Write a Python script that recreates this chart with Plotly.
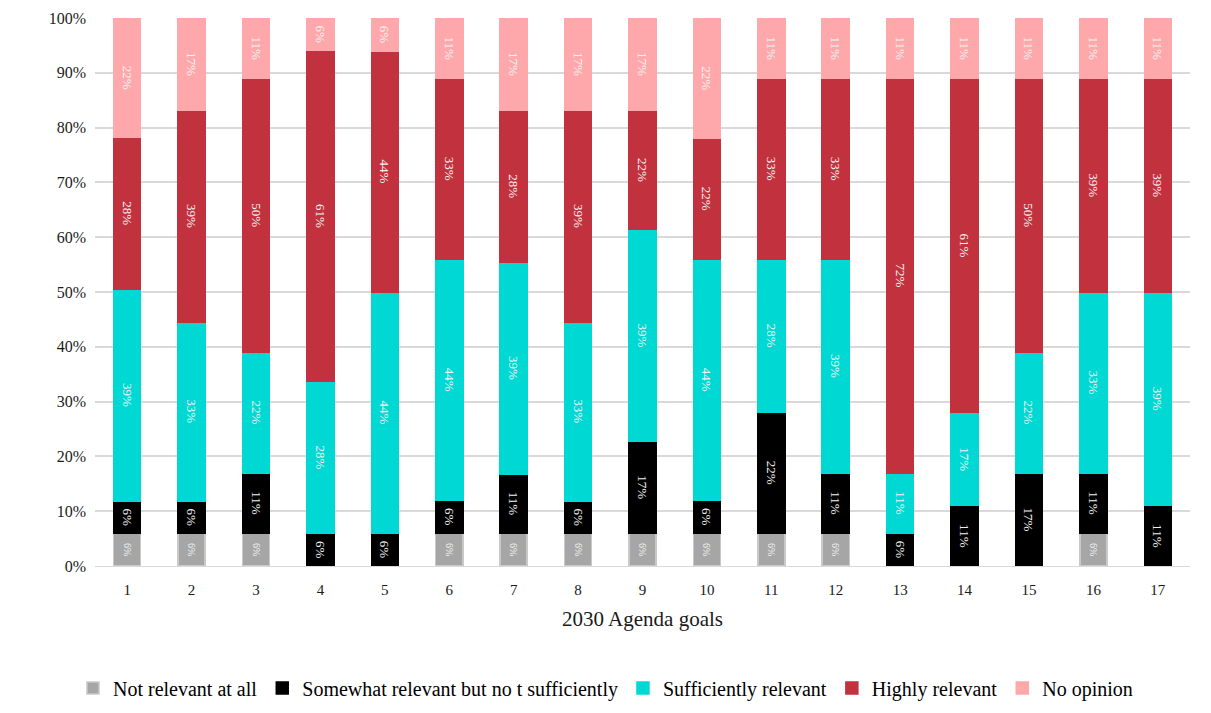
import plotly.graph_objects as go

goals = [str(i) for i in range(1, 18)]

# Share of answers per goal (%), as printed on each segment
not_relevant = [6, 6, 6, 0, 0, 6, 6, 6, 6, 6, 6, 6, 0, 0, 0, 6, 0]
somewhat = [6, 6, 11, 6, 6, 6, 11, 6, 17, 6, 22, 11, 6, 11, 17, 11, 11]
sufficiently = [39, 33, 22, 28, 44, 44, 39, 33, 39, 44, 28, 39, 11, 17, 22, 33, 39]
highly = [28, 39, 50, 61, 44, 33, 28, 39, 22, 22, 33, 33, 72, 61, 50, 39, 39]
no_opinion = [22, 17, 11, 6, 6, 11, 17, 17, 17, 22, 11, 11, 11, 11, 11, 11, 11]

# name, values, fill, outline, label size
series = [
    ("Not relevant at all", not_relevant, "#a6a6a6", "#c9c9c9", 10),
    ("Somewhat relevant but no t sufficiently", somewhat, "#000000", "#000000", 13),
    ("Sufficiently relevant", sufficiently, "#00d8d4", "#00d8d4", 13),
    ("Highly relevant", highly, "#c2323e", "#c2323e", 13),
    ("No opinion", no_opinion, "#ffa8ab", "#ffa8ab", 13),
]

SERIF = "Liberation Serif, DejaVu Serif, serif"

fig = go.Figure()
for name, vals, color, edge, lsize in series:
    fig.add_trace(go.Bar(
        name=name,
        x=goals,
        y=vals,
        marker=dict(color=color, line=dict(color=edge, width=1.5)),
        text=[f"{v}%" if v else "" for v in vals],
        textposition="inside",
        insidetextanchor="middle",
        textangle=90,
        textfont=dict(family=SERIF, size=lsize, color="#f2f2f2"),
        hoverinfo="skip",
    ))

fig.update_layout(
    barmode="stack",
    barnorm="percent",
    bargap=0.58,
    width=1211,
    height=713,
    margin=dict(l=95, r=21, t=18, b=147, autoexpand=False),
    paper_bgcolor="white",
    plot_bgcolor="white",
    font=dict(family=SERIF, size=15, color="#1a1a1a"),
    legend=dict(
        orientation="h",
        x=0.5, xanchor="center", xref="container",
        y=0.035, yanchor="middle", yref="container",
        font=dict(family=SERIF, size=20, color="#000000"),
        itemwidth=30,
        traceorder="normal",
    ),
    xaxis=dict(
        title=dict(text="2030 Agenda goals", font=dict(family=SERIF, size=21, color="#1a1a1a"), standoff=14),
        tickfont=dict(family=SERIF, size=15, color="#1a1a1a"),
        showgrid=False,
        showline=True,
        linecolor="#d9d9d9",
        linewidth=1,
        ticks="",
        ticklabelstandoff=10,
    ),
    yaxis=dict(
        range=[0, 100],
        tickvals=list(range(0, 101, 10)),
        ticktext=[f"{v}%" for v in range(0, 101, 10)],
        tickfont=dict(family=SERIF, size=16, color="#1a1a1a"),
        showgrid=True,
        gridcolor="#d9d9d9",
        gridwidth=1.5,
        zeroline=False,
        ticks="",
        ticklabelstandoff=8,
    ),
)

fig.write_html("out.html")
